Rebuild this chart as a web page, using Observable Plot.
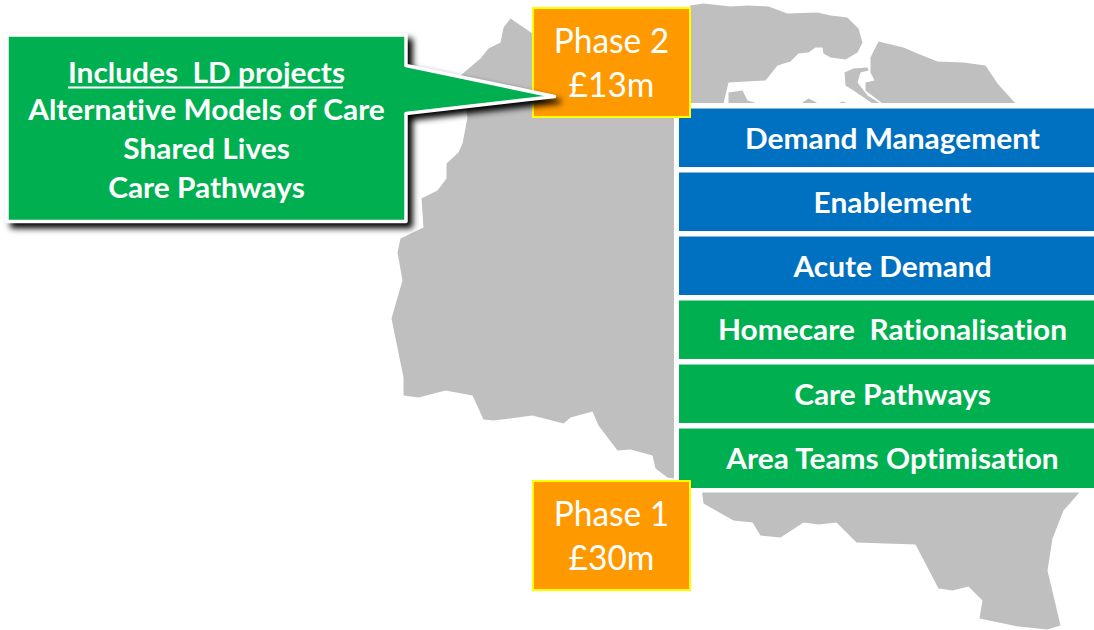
<!DOCTYPE html>
<html>
<head>
<meta charset="utf-8">
<style>
html,body{margin:0;padding:0;background:#fff;overflow:hidden}
svg{display:block}
svg text{white-space:pre;font-variant-ligatures:none}
</style>
<script src="https://cdn.jsdelivr.net/npm/d3@7"></script>
<script src="https://cdn.jsdelivr.net/npm/@observablehq/plot@0.6"></script>
</head>
<body>
<div id="chart"></div>
<script>
// Map silhouette outlines as [x, y]
const mapMain = [[510,18],[532,33],[540,20],[680,20],[690,5],[703,3],[730,6],[748,5],[768,6],[787,13],[817,12],[830,15],[847,17],[858,28],[862,42],[857,52],[845,59],[830,57],[823,53],[822,47],[815,47],[808,52],[798,53],[790,61],[777,65],[765,80],[728,82],[723,103],[723,110],[680,110],[680,478],[673,478],[667,477],[655,468],[652,455],[630,449],[617,450],[598,425],[592,411],[570,417],[563,423],[532,415],[493,420],[483,419],[472,395],[445,390],[418,397],[403,395],[403,377],[391,318],[397,297],[402,280],[397,252],[400,238],[423,227],[421,198],[437,190],[446,178],[446,163],[458,152],[462,143],[467,117],[460,75],[480,58],[488,48],[500,42],[503,27]];
const mapSouth = [[700,480],[1085,480],[1078,493],[1063,510],[1052,538],[1047,570],[1060,625],[1047,629],[1018,626],[979,618],[982,600],[968,586],[952,590],[938,588],[915,544],[856,542],[836,522],[818,524],[803,522],[780,537],[760,535],[752,522],[733,520],[703,503]];
const mapEast = [[878,41],[903,47],[917,53],[937,61],[963,62],[985,65],[997,83],[1015,103],[1015,110],[882,110],[882,103],[865,90],[865,82],[874,80],[870,72],[870,57]];
const mapSliver = [[844,72],[853,68],[867,67],[868,70],[860,72],[857,82],[867,95],[880,103],[880,110],[872,110],[872,103],[853,90],[845,85]];
const mapIslet = [[728,92],[742,90],[747,100],[757,103],[757,110],[728,110]];
const mapBit1 = [[802,110],[802,102],[808,98],[818,103],[818,110]];
const mapBit2 = [[837,110],[837,103],[842,101],[848,103],[848,110]];

const mapShapes = [mapMain, mapSouth, mapEast, mapSliver, mapIslet, mapBit1, mapBit2];
const mapPoints = mapShapes.flatMap((pts, shape) => pts.map(([x, y]) => ({x, y, shape})));

const projectLabels = ["Demand Management","Enablement","Acute Demand","Homecare  Rationalisation","Care Pathways","Area Teams Optimisation"];
const projectGroups = ["Group A","Group A","Group A","Group B","Group B","Group B"];
const projectTops = [108.5,172.5,236.5,300.5,364.5,428.5];
const projectBottoms = [167,231,295,359,423,488];
const projectMids = [139.5,203.5,267.5,330.5,395.5,459.5];
const projects = projectLabels.map((label,i)=>({label,group:projectGroups[i],top:projectTops[i],bottom:projectBottoms[i],mid:projectMids[i]}));

const phaseNames = ["Phase 2","Phase 1"];
const phaseAmounts = ["£13m","£30m"];
const phaseTops = [8,481];
const phaseBottoms = [117,590];
const phaseNameY = [41,514];
const phaseAmountY = [85.5,558.5];
const phases = phaseNames.map((name,i)=>({name,amount:phaseAmounts[i],top:phaseTops[i],bottom:phaseBottoms[i],nameY:phaseNameY[i],amountY:phaseAmountY[i]}));

const calloutOutline = [[6.5,34.5],[405.5,34.5],[405.5,65],[554,96],[405.5,113],[405.5,221],[6.5,221]];
const calloutLines = ["Includes  LD projects","Alternative Models of Care","Shared Lives","Care Pathways"];
const calloutLineY = [73.5,110.5,149.5,188.5];
const callout = calloutLines.map((t,i)=>({t,y:calloutLineY[i]}));

const font = "Lato, 'Noto Sans', sans-serif";
const chart = Plot.plot({
  width:1094, height:630,
  margin:0,
  x:{domain:[0,1094],range:[0,1094],axis:null},
  y:{domain:[0,630],range:[0,630],axis:null},
  color:{domain:["Group A","Group B"],range:["#0070C0","#00B050"]},
  style:{background:"#fff",fontFamily:font},
  marks:[
    Plot.line(mapPoints,{x:"x",y:"y",z:"shape",curve:"linear-closed",fill:"#BFBFBF",stroke:"none"}),
    // white panel behind the stacked project bars
    Plot.rect([0],{x1:()=>674,x2:()=>1094,y1:()=>103,y2:()=>492.5,fill:"#fff"}),
    Plot.rect(projects,{x1:()=>679,x2:()=>1094,y1:"top",y2:"bottom",fill:"group"}),
    Plot.text(projects,{x:()=>892,y:"mid",text:"label",fill:"#fff",fontSize:29,fontWeight:"bold",lineAnchor:"middle",fontFamily:font}),
    Plot.rect(phases,{x1:()=>533,x2:()=>690,y1:"top",y2:"bottom",fill:"#FF9900",stroke:"#FFFF00",strokeWidth:2}),
    Plot.text(phases,{x:()=>611,y:"nameY",text:"name",fill:"#fff",fontSize:34.5,lineAnchor:"middle",fontFamily:font}),
    Plot.text(phases,{x:()=>611,y:"amountY",text:"amount",fill:"#fff",fontSize:34.5,lineAnchor:"middle",fontFamily:font}),
    Plot.line(calloutOutline,{x:d=>d[0],y:d=>d[1],curve:"linear-closed",fill:"#00B050",stroke:"#fff",strokeWidth:3.5,strokeLinejoin:"round",imageFilter:"drop-shadow(5px 5px 3px #000)"}),
    Plot.text(callout,{x:()=>206,y:"y",text:"t",fill:"#fff",fontSize:29,fontWeight:"bold",lineAnchor:"middle",fontFamily:font}),
    Plot.ruleY([87],{x1:()=>68,x2:()=>343,stroke:"#fff",strokeWidth:2})
  ]
});
document.getElementById("chart").append(chart);
// Lato is proportioned a little differently from the reference face: one common width factor per size
d3.select(chart).selectAll("text").each(function(){
  const factor = parseFloat(getComputedStyle(this).fontSize) === 29 ? 1.03 : 0.97;
  this.setAttribute("textLength",this.getComputedTextLength()*factor);
  this.setAttribute("lengthAdjust","spacingAndGlyphs");
});
</script>
</body>
</html>
